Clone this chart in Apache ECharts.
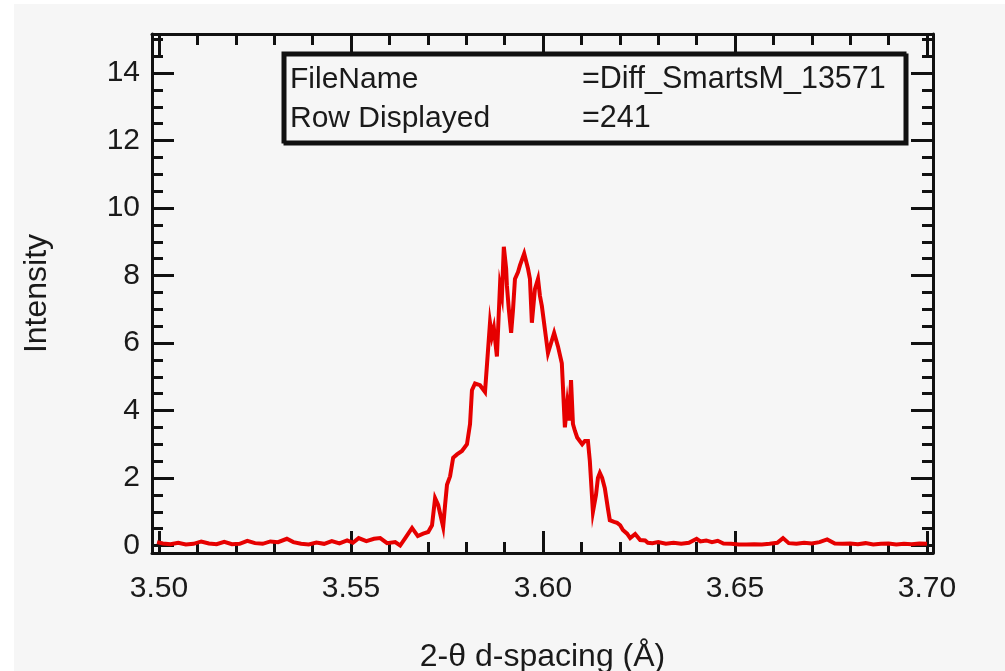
<!DOCTYPE html>
<html>
<head>
<meta charset="utf-8">
<title>Diff_SmartsM_13571 – row 241</title>
<script src="https://cdn.jsdelivr.net/npm/echarts@6/dist/echarts.min.js"></script>
<style>
  html, body { margin: 0; padding: 0; background: #ffffff; }
  #chart { width: 1005px; height: 671px; }
</style>
</head>
<body>
<div id="chart"></div>
<script>
// Diffraction profile: d-spacing (Å) against intensity, in three stretches
const dLow = [3.4995,3.501,3.503,3.505,3.507,3.509,3.511,3.513,3.515,3.517,
              3.519,3.521,3.523,3.525,3.527,3.529,3.531,3.5333,3.535,3.537,
              3.539,3.541,3.543,3.545,3.547,3.549,3.5505,3.552,3.554,3.556];
const iLow = [0.10,0.06,0.04,0.08,0.03,0.05,0.12,0.06,0.04,0.11,
              0.04,0.05,0.14,0.07,0.05,0.12,0.10,0.20,0.10,0.05,
              0.03,0.09,0.05,0.13,0.06,0.15,0.08,0.22,0.13,0.20];

const dPeak = [3.5576,3.5594,3.5615,3.5628,3.5643,3.5659,3.5674,3.5688,3.5701,3.5711,
               3.5719,3.5727,3.5732,3.5740,3.5745,3.5750,3.5758,3.5766,3.5776,3.5789,
               3.5802,3.5810,3.5815,3.5823,3.5836,3.5849,3.5854,3.5862,3.5867,3.5872,
               3.5880,3.5888,3.5893,3.5898,3.5904,3.5906,3.5911,3.5917,3.5922,3.5927,
               3.5935,3.5940,3.5951,3.5956,3.5961,3.5966,3.5971,3.5979,3.5987,3.5992,
               3.5997,3.6005,3.6013,3.6021,3.6029,3.6039,3.6049,3.6057,3.6063,3.6068,
               3.6073,3.6078,3.6083,3.6089,3.6102,3.6109,3.6117,3.6122,3.6130,3.6138,
               3.6143,3.6148,3.6154,3.6161,3.6169,3.6174,3.6185,3.6193,3.6201,3.6208,
               3.6219,3.6227,3.6240,3.6253,3.6266,3.6273];
const iPeak = [0.22,0.07,0.10,0.00,0.25,0.52,0.28,0.35,0.40,0.60,
               1.40,1.20,1.15,0.55,1.20,1.80,2.05,2.60,2.70,2.80,
               3.00,3.60,4.60,4.80,4.75,4.55,4.50,6.60,6.20,6.45,
               5.60,7.70,7.40,8.85,8.20,7.70,7.00,6.30,7.00,7.90,
               8.10,8.30,8.65,8.60,8.20,7.90,6.60,7.60,7.90,7.40,
               7.10,6.40,5.70,6.00,6.30,5.90,5.40,3.50,4.20,3.70,
               4.90,3.60,3.40,3.20,3.00,3.10,3.10,2.50,1.00,1.50,
               2.00,2.15,2.00,1.70,1.10,0.75,0.70,0.67,0.60,0.46,
               0.35,0.22,0.34,0.16,0.15,0.08];

const dHigh = [3.6285,3.630,3.632,3.634,3.636,3.638,3.640,3.641,3.6425,3.644,
               3.6455,3.647,3.649,3.651,3.653,3.655,3.657,3.659,3.661,3.6625,
               3.664,3.666,3.668,3.670,3.672,3.674,3.676,3.678,3.680,3.682,
               3.684,3.686,3.688,3.690,3.692,3.694,3.696,3.698,3.700];
const iHigh = [0.07,0.10,0.05,0.08,0.05,0.08,0.20,0.12,0.15,0.10,
               0.14,0.06,0.05,0.03,0.03,0.04,0.03,0.05,0.08,0.22,
               0.07,0.05,0.08,0.06,0.10,0.18,0.06,0.05,0.06,0.04,
               0.07,0.03,0.05,0.06,0.03,0.05,0.04,0.06,0.05];

// Tick positions
const xMajorTicks = [3.50, 3.55, 3.60, 3.65, 3.70];
const xMinorTicks = [3.51,3.52,3.53,3.54,3.56,3.57,3.58,3.59,3.61,3.62,3.63,3.64,3.66,3.67,3.68,3.69];
const yMajorTicks = [0, 2, 4, 6, 8, 10, 12, 14];
const yMinorTicks = [0.5,1,1.5,2.5,3,3.5,4.5,5,5.5,6.5,7,7.5,8.5,9,9.5,10.5,11,11.5,12.5,13,13.5,14.5,15];

// Info box text
const infoRows = [
  ['FileName', '=Diff_SmartsM_13571'],
  ['Row Displayed', '=241']
];

const profile = []
  .concat(dLow.map((d, k) => [d, iLow[k]]))
  .concat(dPeak.map((d, k) => [d, iPeak[k]]))
  .concat(dHigh.map((d, k) => [d, iHigh[k]]));

const FONT = 'Liberation Sans, Arial, sans-serif';
const INK = '#111111';
const TEXT = '#1a1a1a';
const X_MIN = 3.49818, X_MAX = 3.70156;
const Y_MIN = -0.222, Y_MAX = 15.156;

function xAxisDef(position, ticks, len, showLine, showLabel) {
  return {
    type: 'value', position: position, min: X_MIN, max: X_MAX,
    axisLine: { show: showLine, onZero: false, lineStyle: { color: INK, width: 3 } },
    axisTick: { show: true, inside: true, length: len, customValues: ticks,
                lineStyle: { color: INK, width: 3 } },
    axisLabel: { show: showLabel, customValues: ticks, margin: 21,
                 fontFamily: FONT, fontSize: 30, color: TEXT,
                 formatter: v => v.toFixed(2) },
    splitLine: { show: false }
  };
}
function yAxisDef(position, ticks, len, showLine, showLabel) {
  return {
    type: 'value', position: position, min: Y_MIN, max: Y_MAX,
    axisLine: { show: showLine, onZero: false, lineStyle: { color: INK, width: 3 } },
    axisTick: { show: true, inside: true, length: len, customValues: ticks,
                lineStyle: { color: INK, width: 3 } },
    axisLabel: { show: showLabel, customValues: ticks, margin: 12,
                 fontFamily: FONT, fontSize: 30, color: TEXT },
    splitLine: { show: false }
  };
}

const xBottom = xAxisDef('bottom', xMajorTicks, 22, true, true);
xBottom.name = '2-θ d-spacing (Å)';
xBottom.nameLocation = 'middle';
xBottom.nameGap = 88;
xBottom.nameTextStyle = { fontFamily: FONT, fontSize: 32, color: TEXT };

const yLeft = yAxisDef('left', yMajorTicks, 22, true, true);
yLeft.name = 'Intensity';
yLeft.nameLocation = 'middle';
yLeft.nameGap = 99;
yLeft.nameTextStyle = { fontFamily: FONT, fontSize: 32, color: TEXT };

const chart = echarts.init(document.getElementById('chart'), null, { renderer: 'canvas' });
chart.setOption({
  backgroundColor: '#ffffff',
  animation: false,
  grid: { left: 152, right: 72, top: 34, bottom: 118, containLabel: false, outerBoundsMode: 'none' },
  xAxis: [
    xBottom,
    xAxisDef('bottom', xMinorTicks, 11, false, false),
    xAxisDef('top', xMajorTicks, 22, true, false),
    xAxisDef('top', xMinorTicks, 11, false, false)
  ],
  yAxis: [
    yLeft,
    yAxisDef('left', yMinorTicks, 11, false, false),
    yAxisDef('right', yMajorTicks, 22, true, false),
    yAxisDef('right', yMinorTicks, 11, false, false)
  ],
  graphic: [
    { type: 'rect', z: -10, silent: true,
      shape: { x: 14, y: 4, width: 991, height: 667 },
      style: { fill: '#f6f6f6' } },
    { type: 'rect', z: 1, silent: true,
      shape: { x: 283, y: 53, width: 622, height: 89 },
      style: { fill: '#f6f6f6', stroke: INK, lineWidth: 3,
               shadowColor: INK, shadowOffsetX: 2, shadowOffsetY: 2, shadowBlur: 0 } },
    ...infoRows.flatMap((row, k) => [
      { type: 'text', z: 2, silent: true, x: 290, y: 80 + k * 39,
        style: { text: row[0], font: '30px ' + FONT, fill: TEXT,
                 textVerticalAlign: 'middle', verticalAlign: 'middle' } },
      { type: 'text', z: 2, silent: true, x: 582, y: 80 + k * 39,
        style: { text: row[1], font: '30.5px ' + FONT, fill: TEXT,
                 textVerticalAlign: 'middle', verticalAlign: 'middle' } }
    ])
  ],
  series: [{
    type: 'line',
    xAxisIndex: 0, yAxisIndex: 0,
    data: profile,
    showSymbol: false,
    symbol: 'none',
    lineStyle: { color: '#e60000', width: 4, join: 'miter' },
    z: 5
  }]
});
</script>
</body>
</html>
